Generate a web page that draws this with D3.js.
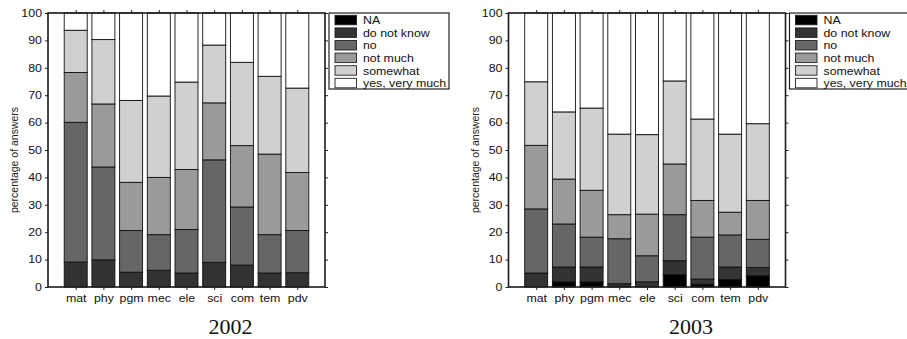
<!DOCTYPE html>
<html>
<head>
<meta charset="utf-8">
<script src="https://cdn.jsdelivr.net/npm/d3@7"></script>
<style>
  body { margin: 0; background: #fff; }
  svg { display: block; }
  .tick text { font-family: "Liberation Sans", Arial, sans-serif; font-size: 10.5px; fill: #111; }
</style>
</head>
<body>
<svg id="chart" width="907" height="339"></svg>
<script>
const categories = ["mat", "phy", "pgm", "mec", "ele", "sci", "com", "tem", "pdv"];
const answers = ["NA", "do not know", "no", "not much", "somewhat", "yes, very much"];
const yTicks = [0, 10, 20, 30, 40, 50, 60, 70, 80, 90, 100];

// 2002, share of each answer per category (percent)
const na2002       = [0, 0, 0, 0, 0, 0, 0, 0, 0];
const dontKnow2002 = [9.1, 9.9, 5.4, 6.1, 5.1, 9.0, 8.0, 5.1, 5.2];
const no2002       = [51.0, 33.9, 15.2, 13.0, 15.9, 37.4, 21.2, 14.0, 15.4];
const notMuch2002  = [18.2, 23.0, 17.6, 20.9, 21.9, 20.8, 22.4, 29.4, 21.2];
const somewhat2002 = [15.4, 23.5, 29.9, 29.7, 31.9, 21.1, 30.4, 28.4, 30.8];
const yesMuch2002  = [6.3, 9.7, 31.9, 30.3, 25.2, 11.7, 18.0, 23.1, 27.4];

// 2003
const na2003       = [0, 1.9, 1.9, 0, 0, 4.5, 1.0, 2.7, 4.1];
const dontKnow2003 = [5.1, 5.4, 5.4, 1.2, 1.9, 5.1, 1.9, 4.6, 3.0];
const no2003       = [23.4, 15.7, 10.9, 16.4, 9.5, 16.8, 15.3, 11.7, 10.3];
const notMuch2003  = [23.2, 16.4, 17.1, 8.8, 15.2, 18.5, 13.4, 8.3, 14.2];
const somewhat2003 = [23.2, 24.5, 30.0, 29.4, 29.0, 30.3, 29.7, 28.5, 28.0];
const yesMuch2003  = [25.1, 36.1, 34.7, 44.2, 44.4, 24.8, 38.7, 44.2, 40.4];

const shades = ["#000000", "#333333", "#666666", "#9a9a9a", "#d0d0d0", "#ffffff"];

// the scanned figure is a bit wider than tall, so text is stretched sideways
const stretch = 1.18;

function table(cols) {
    return categories.map((c, i) => {
        const row = { cat: c };
        answers.forEach((a, k) => row[a] = cols[k][i]);
        return row;
    });
}

const panels = [
    { title: "2002", x0: 48, rows: table([na2002, dontKnow2002, no2002, notMuch2002, somewhat2002, yesMuch2002]) },
    { title: "2003", x0: 508.5, rows: table([na2003, dontKnow2003, no2003, notMuch2003, somewhat2003, yesMuch2003]) }
];

const plotW = 277, plotTop = 13, plotBottom = 287;
const svg = d3.select("#chart");
const color = d3.scaleOrdinal().domain(answers).range(shades);
const stack = d3.stack().keys(answers);

panels.forEach(p => {
    const x = d3.scalePoint().domain(categories).range([p.x0, p.x0 + plotW]).padding(1);
    const y = d3.scaleLinear().domain([0, 100]).range([plotBottom, plotTop]);
    const bw = x.step() * 0.83;
    const g = svg.append("g");

    const layers = stack(p.rows);
    g.selectAll("g.layer")
        .data(layers)
        .join("g")
        .attr("class", "layer")
        .attr("fill", d => color(d.key))
        .selectAll("rect")
        .data(d => d.filter(s => s[1] - s[0] > 0))
        .join("rect")
        .attr("x", d => x(d.data.cat) - bw / 2)
        .attr("width", bw)
        .attr("y", d => y(d[1]))
        .attr("height", d => y(d[0]) - y(d[1]))
        .attr("stroke", "#111")
        .attr("stroke-width", 0.9);

    // frame with ticks on all four sides
    g.append("g")
        .attr("transform", "translate(" + p.x0 + ",0)")
        .call(d3.axisLeft(y).tickValues(yTicks).tickSize(3).tickPadding(3).tickSizeOuter(0))
        .selectAll(".tick text")
        .attr("x", -6 / stretch)
        .attr("transform", "scale(" + stretch + ",1)");
    g.append("g")
        .attr("transform", "translate(" + (p.x0 + plotW) + ",0)")
        .call(d3.axisRight(y).tickValues(yTicks).tickSize(3).tickSizeOuter(0).tickFormat(""));
    g.append("g")
        .attr("transform", "translate(0," + plotBottom + ")")
        .call(d3.axisBottom(x).tickSize(3).tickPadding(5).tickSizeOuter(0))
        .selectAll(".tick text")
        .attr("transform", "scale(" + stretch + ",1)");
    g.append("g")
        .attr("transform", "translate(0," + plotTop + ")")
        .call(d3.axisTop(x).tickSize(3).tickSizeOuter(0).tickFormat(""));
    g.selectAll(".domain").remove();
    g.selectAll(".tick line").attr("stroke", "#222");

    g.append("rect")
        .attr("x", p.x0).attr("y", plotTop)
        .attr("width", plotW).attr("height", plotBottom - plotTop)
        .attr("fill", "none")
        .attr("stroke", "#1a1a1a")
        .attr("stroke-width", 1.6);

    g.append("text")
        .attr("transform", "translate(" + (p.x0 - 34) + ",160) rotate(-90)")
        .attr("text-anchor", "middle")
        .attr("dominant-baseline", "central")
        .style("font-family", "Liberation Sans, Arial, sans-serif")
        .style("font-size", "10.5px")
        .attr("fill", "#222")
        .text("percentage of answers");

    g.append("text")
        .attr("x", p.x0 + plotW / 2 + 44)
        .attr("y", 334)
        .attr("text-anchor", "middle")
        .style("font-family", "Liberation Serif, Times New Roman, serif")
        .style("font-size", "22px")
        .attr("fill", "#111")
        .text(p.title);

    // legend, top-right of the frame
    const lx = p.x0 + plotW + 4;
    const lg = g.append("g").attr("transform", "translate(" + lx + "," + plotTop + ")");
    lg.append("rect")
        .attr("width", 120).attr("height", 76)
        .attr("fill", "#fff")
        .attr("stroke", "#222")
        .attr("stroke-width", 1.2);
    const item = lg.selectAll("g.item")
        .data(answers)
        .join("g")
        .attr("class", "item")
        .attr("transform", (d, i) => "translate(6," + (2.3 + i * 12.6) + ")");
    item.append("rect")
        .attr("width", 21.5).attr("height", 9.5)
        .attr("fill", d => color(d))
        .attr("stroke", "#222")
        .attr("stroke-width", 0.9);
    item.append("text")
        .attr("x", 28 / stretch)
        .attr("y", 8.8)
        .attr("transform", "scale(" + stretch + ",1)")
        .style("font-family", "Liberation Sans, Arial, sans-serif")
        .style("font-size", "10.5px")
        .attr("fill", "#111")
        .text(d => d);
});
</script>
</body>
</html>
